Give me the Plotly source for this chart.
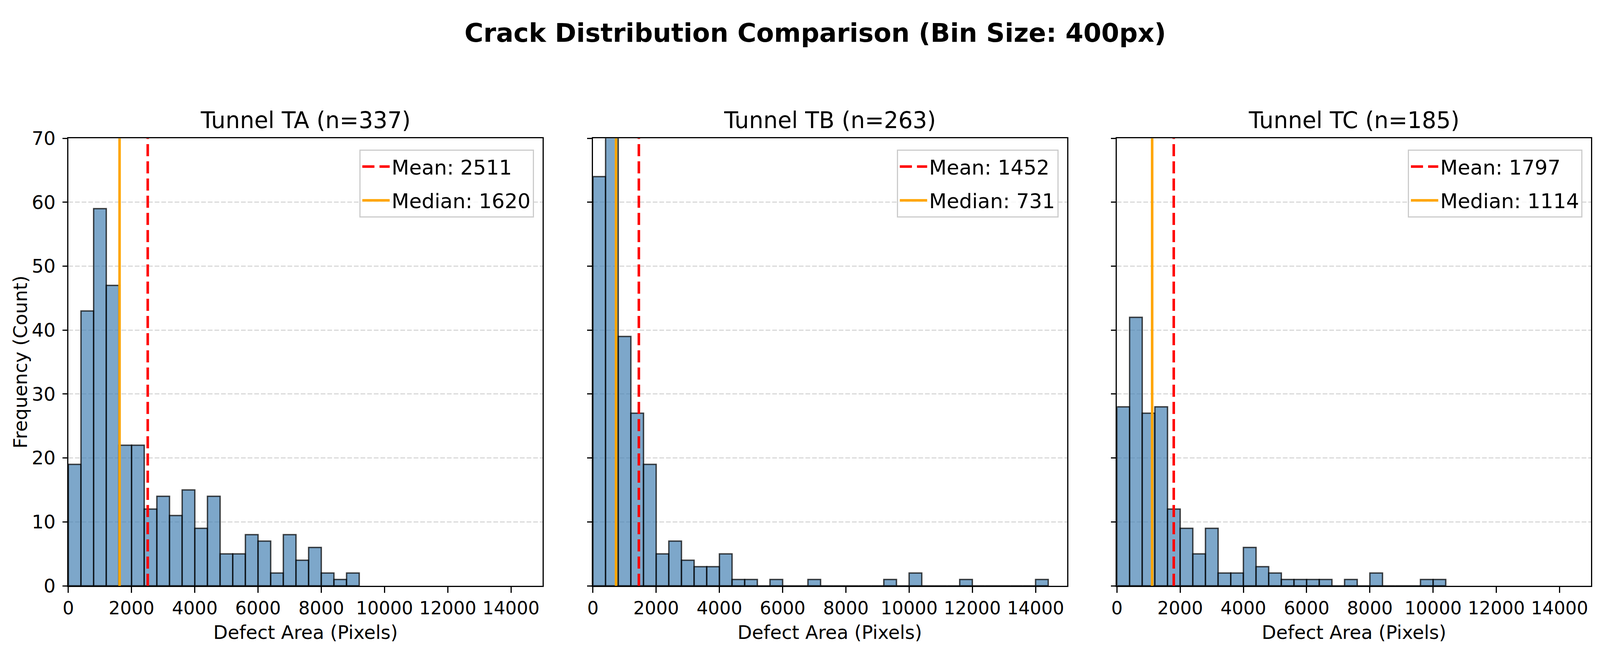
import plotly.graph_objects as go

BIN_SIZE = 400

tunnels = ['TA', 'TB', 'TC']
sample_sizes = [337, 263, 185]
means = [2511, 1452, 1797]
medians = [1620, 731, 1114]

# counts per 400px bin, first bin starts at 0
counts_ta = [19, 43, 59, 47, 22, 22, 12, 14, 11, 15, 9, 14, 5, 5, 8, 7, 2, 8, 4, 6, 2, 1, 2]
counts_tb = [64, 78, 39, 27, 19, 5, 7, 4, 3, 3, 5, 1, 1, 0, 1, 0, 0, 1,
             0, 0, 0, 0, 0, 1, 0, 2, 0, 0, 0, 1, 0, 0, 0, 0, 0, 1]
counts_tc = [28, 42, 27, 28, 12, 9, 5, 9, 2, 2, 6, 3, 2, 1, 1, 1, 1,
             0, 1, 0, 2, 0, 0, 0, 1, 1]
all_counts = [counts_ta, counts_tb, counts_tc]

x_ticks = [0, 2000, 4000, 6000, 8000, 10000, 12000, 14000]
x_tick_labels = ['0', '2000', '4000', '6000', '8000', '10000', '12000', '14000']
y_ticks = [0, 10, 20, 30, 40, 50, 60, 70]

FONT = 'DejaVu Sans'

# reference layout is 5257x1713; the page is shown in a 4096x1713 viewport
REF_W, REF_H = 5257, 1713
VIEW_W, VIEW_H = 4096, 1713
DIV_W, DIV_H, OFF = 4080, 1697, 8
SX = VIEW_W / REF_W

# panel edges (left, right) and vertical extent, in reference pixels
panels = [(206, 1770), (1936, 3500), (3664, 5228)]
top_px, bottom_px = 337, 1522


def px_x(p):
    return (p * SX - OFF) / DIV_W


def px_y(p):
    return 1 - (p - OFF) / DIV_H


fig = go.Figure()
annotations = []
layout = dict(
    autosize=True,
    margin=dict(l=0, r=0, t=0, b=0),
    paper_bgcolor='white', plot_bgcolor='white',
    font=dict(family=FONT, size=48, color='black'),
    showlegend=True,
)

for i, name in enumerate(tunnels):
    n = '' if i == 0 else str(i + 1)
    xa, ya = 'x' + n, 'y' + n
    leg = 'legend' + n
    counts = all_counts[i]
    edges = [BIN_SIZE * k for k in range(len(counts))]

    fig.add_trace(go.Bar(
        x=edges, y=counts, width=BIN_SIZE, offset=0,
        marker=dict(color='rgba(70,130,180,0.7)',
                    line=dict(color='rgba(0,0,0,0.72)', width=3.5)),
        xaxis=xa, yaxis=ya, showlegend=False, hoverinfo='x+y'))

    fig.add_trace(go.Scatter(
        x=[means[i], means[i]], y=[0, 70], mode='lines',
        line=dict(color='red', width=6.5, dash='31px,13px'),
        name=f'Mean: {means[i]}', legend=leg, legendgroup=f'mean{i}',
        xaxis=xa, yaxis=ya))
    fig.add_trace(go.Scatter(
        x=[medians[i], medians[i]], y=[0, 70], mode='lines',
        line=dict(color='orange', width=6.5),
        name=f'Median: {medians[i]}', legend=leg, legendgroup=f'median{i}',
        xaxis=xa, yaxis=ya))

    left, right = panels[i]
    layout['xaxis' + n] = dict(
        domain=[px_x(left), px_x(right)], anchor=ya, range=[0, 15000],
        tickvals=x_ticks, ticktext=x_tick_labels, tickangle=0,
        ticks='outside', ticklen=15, tickwidth=3,
        tickcolor='black', showline=True, linecolor='black', linewidth=3,
        mirror=True, showgrid=False, zeroline=False,
        tickfont=dict(size=46, family=FONT))
    layout['yaxis' + n] = dict(
        domain=[px_y(bottom_px), px_y(top_px)], anchor=xa, range=[0, 70],
        tickvals=y_ticks, ticks='outside', ticklen=12, tickwidth=3,
        tickcolor='black', showline=True, linecolor='black', linewidth=3,
        mirror=True, showgrid=True, gridcolor='#d9d9d9', gridwidth=3,
        griddash='12px,5px', zeroline=False, showticklabels=(i == 0),
        ticklabelstandoff=8, tickfont=dict(size=48, family=FONT))
    layout[leg] = dict(
        x=px_x(right - 29), y=px_y(367), xanchor='right', yanchor='top',
        bgcolor='rgba(255,255,255,0.8)', bordercolor='#cccccc', borderwidth=3,
        font=dict(size=52, family=FONT), tracegroupgap=16, itemwidth=70)

    center = (left + right) / 2
    annotations.append(dict(
        text=f'Tunnel {name} (n={sample_sizes[i]})', x=px_x(center), y=px_y(289),
        xref='paper', yref='paper', showarrow=False, xanchor='center', yanchor='middle',
        font=dict(size=58, family=FONT)))
    annotations.append(dict(
        text='Defect Area (Pixels)', x=px_x(center), y=px_y(1645),
        xref='paper', yref='paper', showarrow=False, xanchor='center', yanchor='middle',
        font=dict(size=48, family=FONT)))

annotations.append(dict(
    text='<b>Crack Distribution Comparison (Bin Size: 400px)</b>',
    x=px_x(2669), y=px_y(58), xref='paper', yref='paper', showarrow=False,
    xanchor='center', yanchor='middle', font=dict(size=66, family=FONT)))
annotations.append(dict(
    text='Frequency (Count)', x=px_x(48), y=px_y((top_px + bottom_px) / 2),
    xref='paper', yref='paper', showarrow=False, textangle=-90,
    xanchor='center', yanchor='middle', font=dict(size=48, family=FONT)))

layout['annotations'] = annotations
fig.update_layout(**layout)

fig.write_html("out.html")
